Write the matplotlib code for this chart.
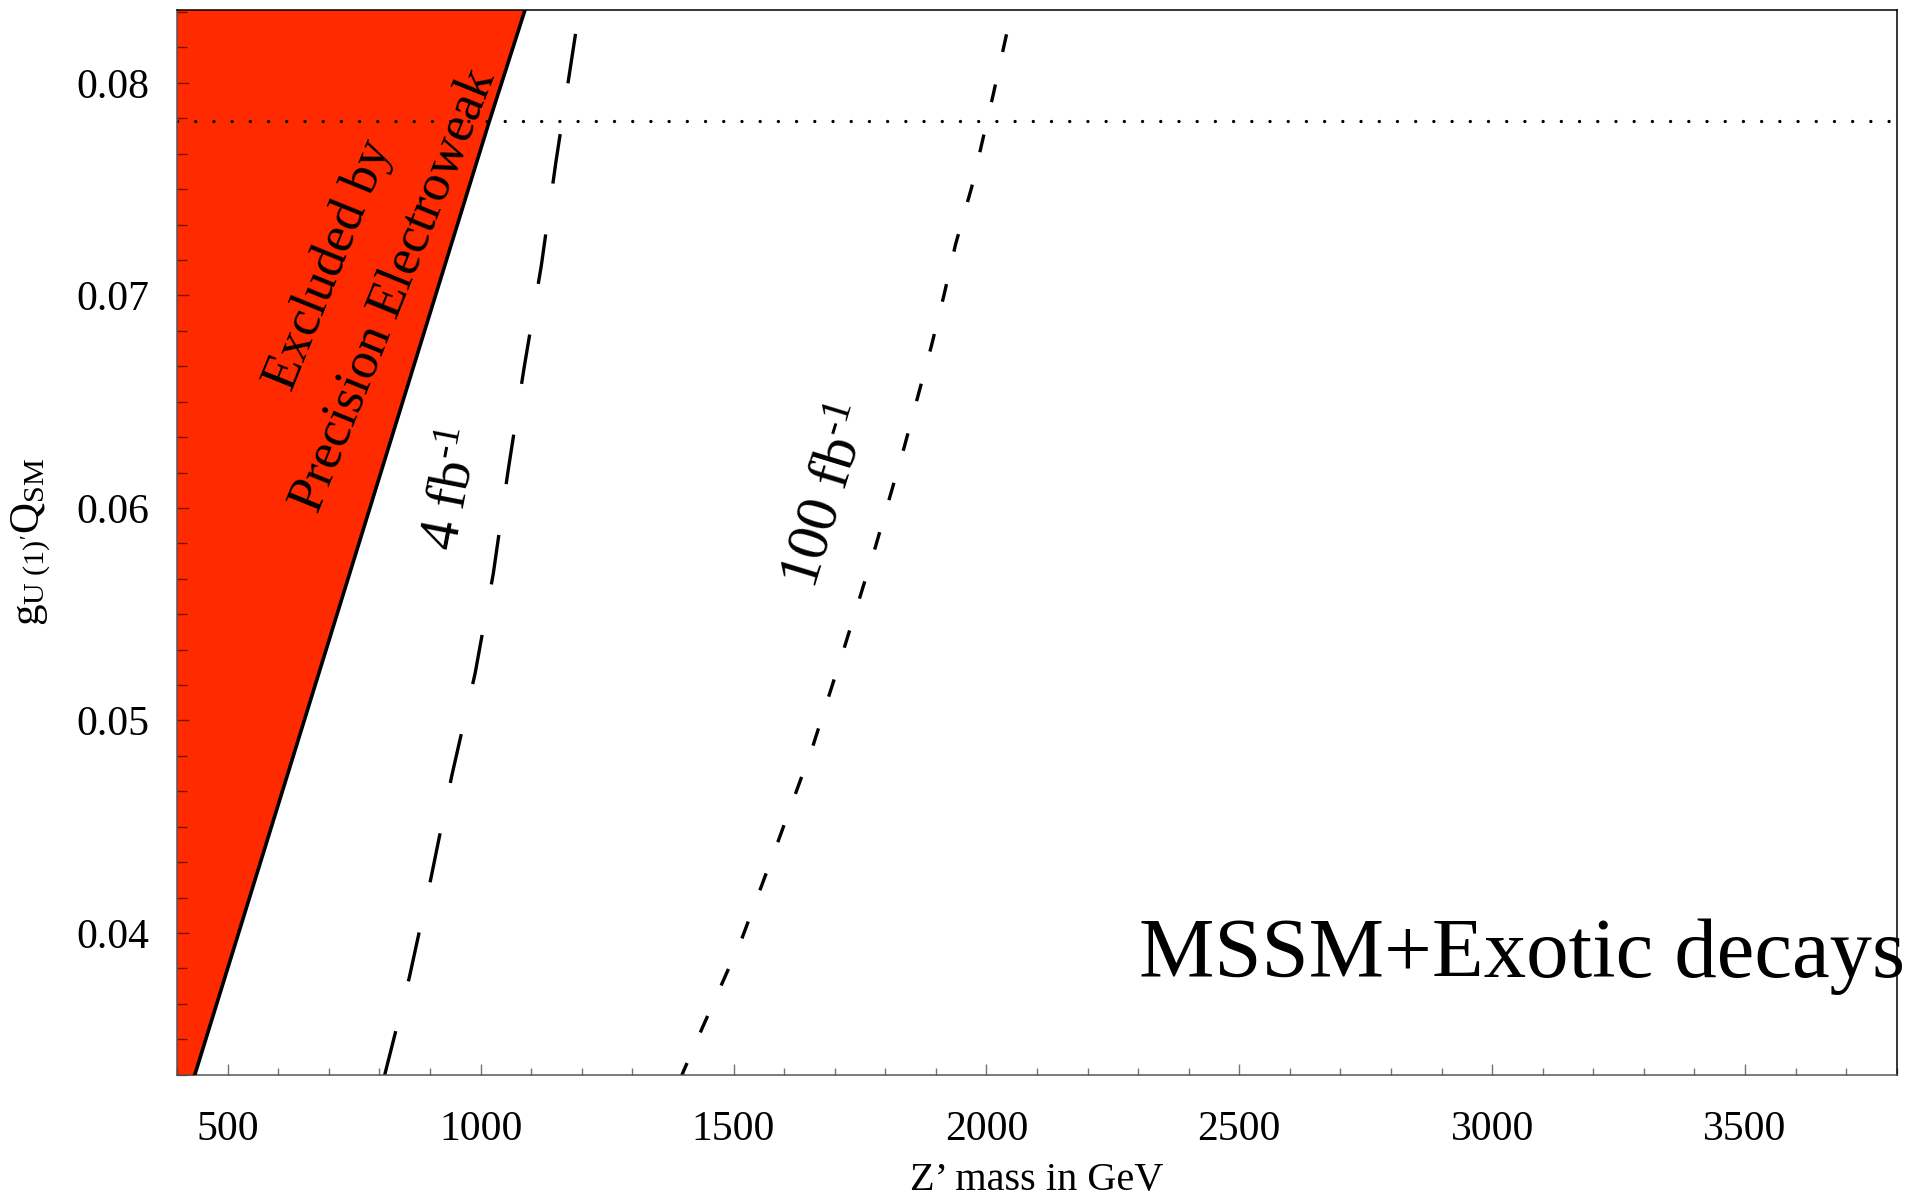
import matplotlib
matplotlib.use('Agg')
import matplotlib.pyplot as plt
from matplotlib.ticker import MultipleLocator, FormatStrFormatter

plt.rcParams['font.family'] = ['Liberation Serif', 'DejaVu Serif']
plt.rcParams['mathtext.fontset'] = 'custom'
plt.rcParams['mathtext.rm'] = 'Liberation Serif'
plt.rcParams['mathtext.it'] = 'Liberation Serif:italic'
plt.rcParams['lines.scale_dashes'] = False

# precision electroweak exclusion boundary (coupling vs Z' mass)
excl_g = [0.0331, 0.0781, 0.0836]
excl_m = [432, 1016, 1090]

# discovery reach, 4 fb^-1
lumi4_g = [0.0331, 0.0379, 0.0426, 0.0474, 0.0522, 0.0569, 0.0617,
           0.0666, 0.0714, 0.0763, 0.0836]
lumi4_m = [808, 859, 902, 943, 989, 1025, 1054, 1086, 1120, 1149, 1196]

# discovery reach, 100 fb^-1
lumi100_g = [0.0331, 0.0353, 0.0397, 0.0443, 0.0488, 0.0535, 0.0582,
             0.0629, 0.0676, 0.0700, 0.0724, 0.0751, 0.0794, 0.0836]
lumi100_m = [1394, 1434, 1516, 1588, 1657, 1720, 1781, 1838, 1891,
             1916, 1939, 1971, 2013, 2052]

ew_limit = 0.0782

fig = plt.figure(figsize=(19.15, 11.96), dpi=100)
ax = fig.add_axes([0.0925, 0.1014, 0.8980, 0.8904])

ax.fill_betweenx(excl_g, 0, excl_m, color='#ff2a00', lw=0, zorder=1)
ax.plot(excl_m, excl_g, color='k', lw=2.6, zorder=3)
ax.plot(lumi4_m, lumi4_g, color='k', lw=2.4, dashes=(36, 37))
ax.plot(lumi100_m, lumi100_g, color='k', lw=2.4, dashes=(13, 24))
ax.axhline(ew_limit, color='k', lw=2.4, dashes=(0.01, 13.1),
           dash_capstyle='round')

ax.set_xlim(400, 3800)
ax.set_ylim(0.03333, 0.08344)

ax.xaxis.set_major_locator(MultipleLocator(500))
ax.xaxis.set_minor_locator(MultipleLocator(100))
ax.yaxis.set_major_locator(MultipleLocator(0.01))
ax.yaxis.set_minor_locator(MultipleLocator(0.01 / 6))
ax.xaxis.set_major_formatter(FormatStrFormatter('%d'))
ax.yaxis.set_major_formatter(FormatStrFormatter('%.2f'))

tick_col = (0, 0, 0, 0.55)
ax.tick_params(which='both', direction='in', top=False, right=False,
               color=tick_col, width=1.0, labelsize=30)
ax.tick_params(axis='x', which='major', length=8, pad=26)
ax.tick_params(axis='x', which='minor', length=5)
ax.tick_params(axis='y', which='major', length=8.5, pad=20)
ax.tick_params(axis='y', which='minor', length=7)

for side in ['left', 'bottom']:
    ax.spines[side].set_color('#555555')
    ax.spines[side].set_linewidth(1.1)
for side in ['top', 'right']:
    ax.spines[side].set_color('k')
    ax.spines[side].set_linewidth(1.1)

ax.set_xlabel('Z’ mass in GeV', fontsize=29)
ax.xaxis.set_label_coords(0.5, -0.0817)
ax.set_ylabel(r"$\mathrm{g}_{\mathrm{U\ (1)'}}\mathrm{Q}_{\mathrm{SM}}$", fontsize=31)
ax.yaxis.set_label_coords(-0.0721, 0.5)

ax.text(0.0883, 0.7604, 'Excluded by', transform=ax.transAxes, fontsize=38,
        rotation=68, rotation_mode='anchor', ha='center', va='center', zorder=5)
ax.text(0.1267, 0.7360, 'Precision Electroweak', transform=ax.transAxes, fontsize=38,
        rotation=68, rotation_mode='anchor', ha='center', va='center', zorder=5)
ax.text(0.1605, 0.5500, '4 fb$^{\\mathregular{\u20101}}$', transform=ax.transAxes,
        fontsize=41, rotation=79, rotation_mode='anchor', ha='center', va='center')
ax.text(0.3790, 0.5430, '100 fb$^{\\mathregular{\u20101}}$', transform=ax.transAxes,
        fontsize=43, rotation=73, rotation_mode='anchor', ha='center', va='center')
ax.text(1.0049, 0.0917, 'MSSM+Exotic decays', transform=ax.transAxes,
        fontsize=61, ha='right', va='baseline', clip_on=False)

fig.savefig('out.png', dpi=100)
